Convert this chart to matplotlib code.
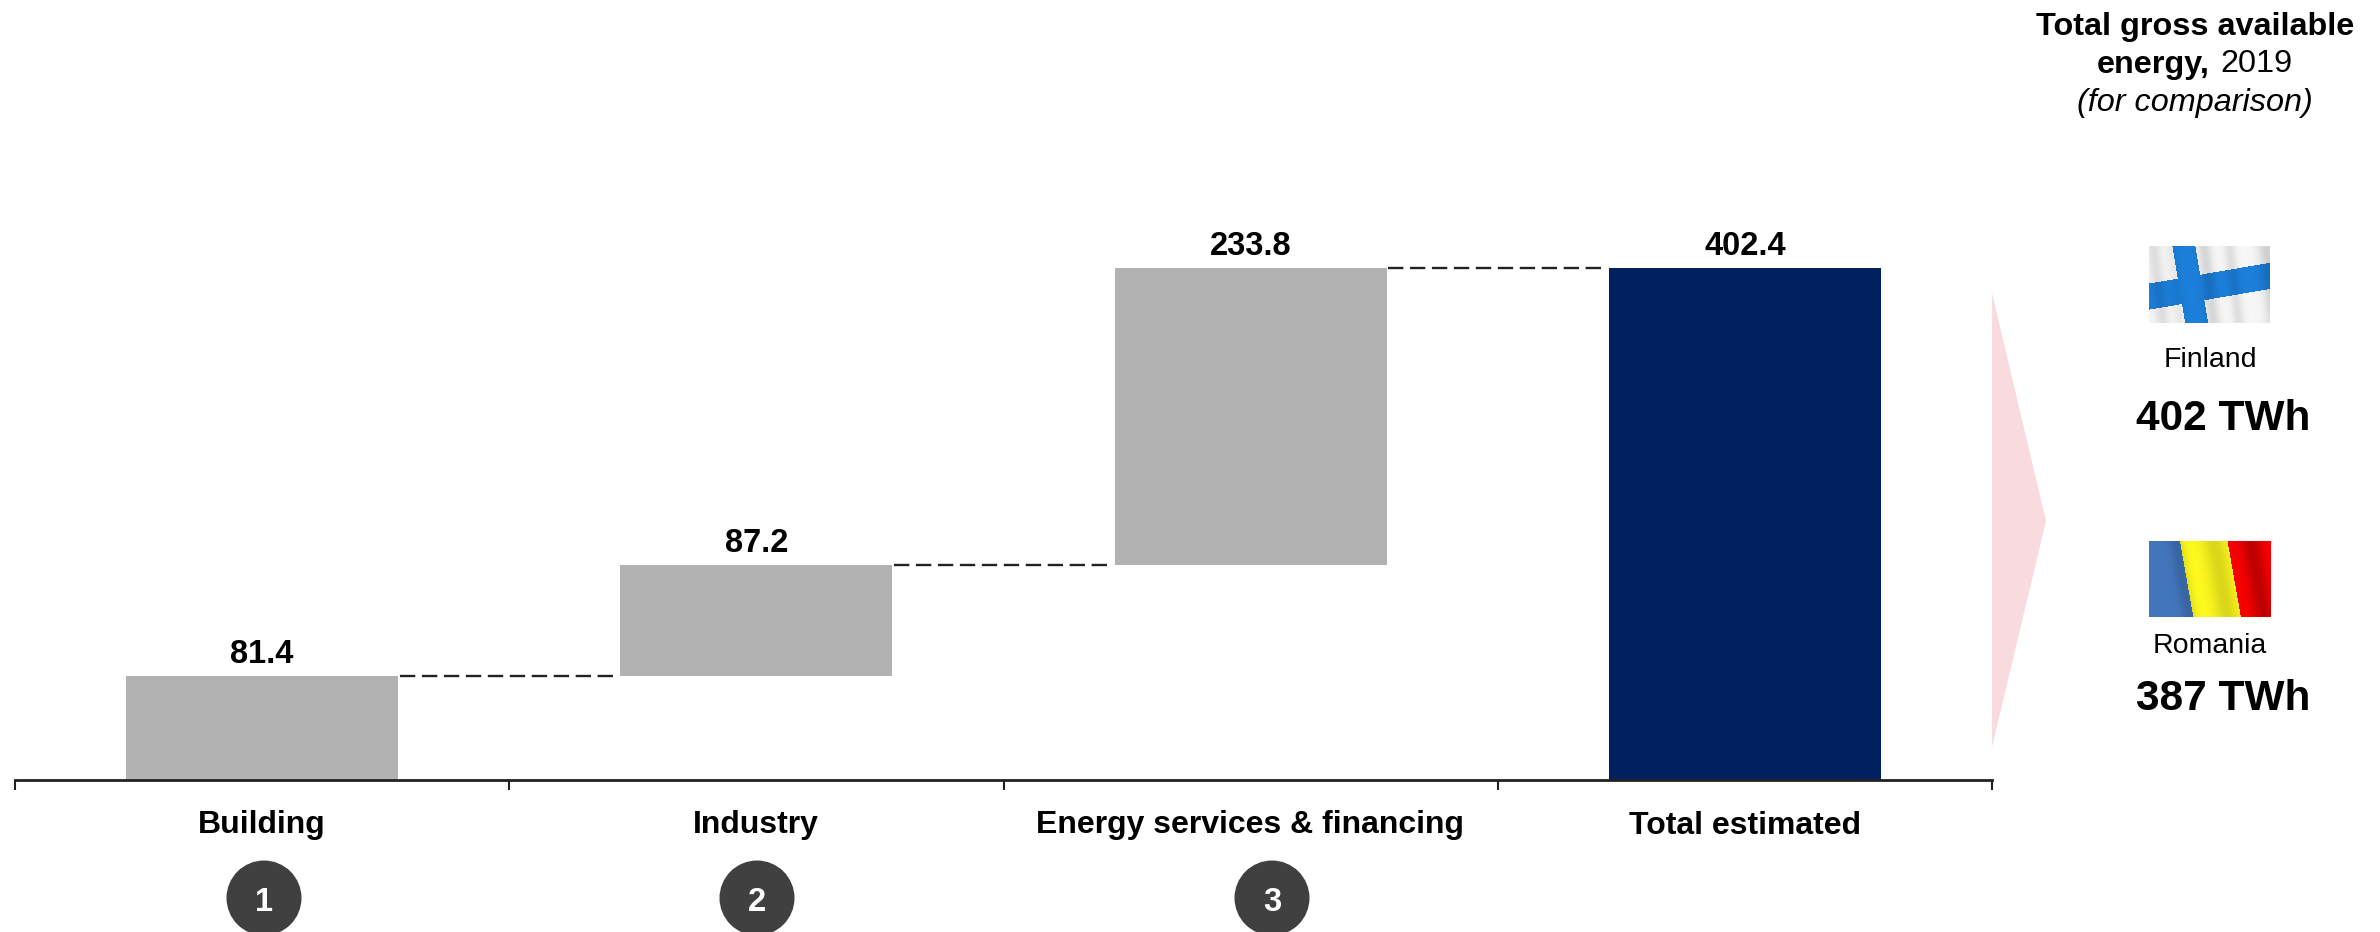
import numpy as np
import matplotlib
matplotlib.use("Agg")
import matplotlib.pyplot as plt
from matplotlib.patches import Polygon, Circle

plt.rcParams['font.family'] = ['Liberation Sans', 'DejaVu Sans']

categories = ["Building", "Industry", "Energy services & financing", "Total estimated"]
increments = [81.4, 87.2, 233.8]
total = [402.4]
badges = ["1", "2", "3"]
comparison_names = ["Finland", "Romania"]
comparison_values = ["402 TWh", "387 TWh"]

W, H = 2380, 932
GREY, NAVY, INK = "#B2B2B2", "#002060", "#000000"
fig = plt.figure(figsize=(W/100, H/100), dpi=100, facecolor="white")

def fx(x): return x / W
def fy(y): return 1 - y / H

ax_l, ax_r, ax_b, ax_t = 15, 1992, 780, 180
ax = fig.add_axes([fx(ax_l), fy(ax_b), (ax_r-ax_l)/W, (ax_b-ax_t)/H])
ax.set_xlim(-0.5, 3.5)
ax.set_ylim(0, 402.4 * (ax_b-ax_t) / 512)
ax.patch.set_alpha(0)
for s in ["top", "right", "left"]:
    ax.spines[s].set_visible(False)
ax.spines["bottom"].set_linewidth(2)
ax.spines["bottom"].set_color("#222222")
ax.set_yticks([])
ax.set_xticks(np.arange(-0.5, 4, 1))
ax.set_xticklabels([])
ax.tick_params(axis="x", length=7, width=1.5, color="#222222")

bar_w = 0.55
bottoms = np.concatenate([[0], np.cumsum(increments)[:-1]])
x = np.arange(4)
ax.bar(x[:3], increments, bottom=bottoms, width=bar_w, color=GREY, linewidth=0)
ax.bar(x[3:], total, width=bar_w, color=NAVY, linewidth=0)

tops = list(np.cumsum(increments)) + total
labels = increments + total
for xi, t, v in zip(x, tops, labels):
    ax.annotate(f"{v:.1f}", (xi, t), xytext=(0, 4.5), textcoords="offset points",
                ha="center", va="bottom", fontsize=23.5, fontweight="bold", color=INK)
for i in range(3):
    ax.plot([x[i] + bar_w/2 + 0.003, x[i+1] - bar_w/2 - 0.01], [tops[i], tops[i]],
            color="#222222", lw=1.7, dashes=(6.5, 2.8), solid_capstyle="butt")

# overlay in pixel coordinates
ov = fig.add_axes([0, 0, 1, 1], zorder=5)
ov.set_xlim(0, W); ov.set_ylim(H, 0); ov.axis("off"); ov.patch.set_alpha(0)

label_x = [262, 756, 1250, 1745]
for c, lx in zip(categories, label_x):
    ov.text(lx, 822, c, ha="center", va="center_baseline", fontsize=23, fontweight="bold", color=INK)

for b, bx in zip(badges, [264, 757, 1272]):
    ov.add_patch(Circle((bx, 898), 37.5, color="#404040", lw=0))
    ov.text(bx, 899, b, ha="center", va="center_baseline", fontsize=23.5, fontweight="bold", color="white")

ov.add_patch(Polygon([[1992, 293], [2046, 521], [1992, 747]], closed=True, color="#F9DADF", lw=0))

# flags (cloth shading only, no data)
def g(u, c, w):
    return np.exp(-((u - c) / w) ** 2)

def finland():
    h, w = 77, 121
    yy, xx = np.mgrid[0:h, 0:w]
    u, v = xx / w, yy / h
    img = np.ones((h, w, 3)) * np.array([0.97, 0.97, 0.97])
    cx = 0.285 + 0.105 * v
    cy = 0.65 - 0.27 * u
    mask = (np.abs(u - cx) < 0.095) | (np.abs(v - cy) < 0.17)
    img[mask] = [0.11, 0.50, 0.86]
    su = u - 0.08 * v
    s = 1 - 0.10*g(su, 0.03, 0.06) - 0.13*g(su, 0.45, 0.06) - 0.10*g(su, 0.66, 0.05) - 0.16*g(su, 0.97, 0.08) - 0.06*g(su, 0.18, 0.05)
    return np.clip(img * s[..., None], 0, 1)

def romania():
    h, w = 76, 122
    yy, xx = np.mgrid[0:h, 0:w]
    u, v = xx / w, yy / h
    img = np.zeros((h, w, 3))
    b1 = 0.25 + 0.11 * v
    b2 = 0.64 + 0.11 * v
    img[u < b1] = [0.26, 0.46, 0.74]
    img[(u >= b1) & (u < b2)] = [1.0, 0.98, 0.12]
    img[u >= b2] = [1.0, 0.0, 0.0]
    su = u - 0.11 * v
    s = 1 - 0.14*g(su, 0.22, 0.06) - 0.14*g(su, 0.53, 0.10) - 0.25*g(su, 0.83, 0.09)
    return np.clip(img * s[..., None], 0, 1)

ov.imshow(finland(), extent=(2149, 2270, 323, 246), aspect="auto", interpolation="bilinear", zorder=2)
ov.imshow(romania(), extent=(2149, 2271, 617, 541), aspect="auto", interpolation="bilinear", zorder=2)
ov.set_xlim(0, W); ov.set_ylim(H, 0)

for name, val, ny, vy in zip(comparison_names, comparison_values, [357, 643], [414, 695]):
    ov.text(2210, ny, name, ha="center", va="center_baseline", fontsize=20.5, color=INK)
    ov.text(2223, vy, val, ha="center", va="center_baseline", fontsize=30.5, fontweight="bold", color=INK)

tcx = 2195
ov.text(tcx, 23, "Total gross available", ha="center", va="center_baseline", fontsize=23.3, fontweight="bold")
ov.text(2153, 61, "energy,", ha="center", va="center_baseline", fontsize=23.3, fontweight="bold")
ov.text(2256, 61, "2019", ha="center", va="center_baseline", fontsize=23.3)
ov.text(tcx, 99, "(for comparison)", ha="center", va="center_baseline", fontsize=23.3, style="italic")

fig.savefig("out.png", dpi=100)
